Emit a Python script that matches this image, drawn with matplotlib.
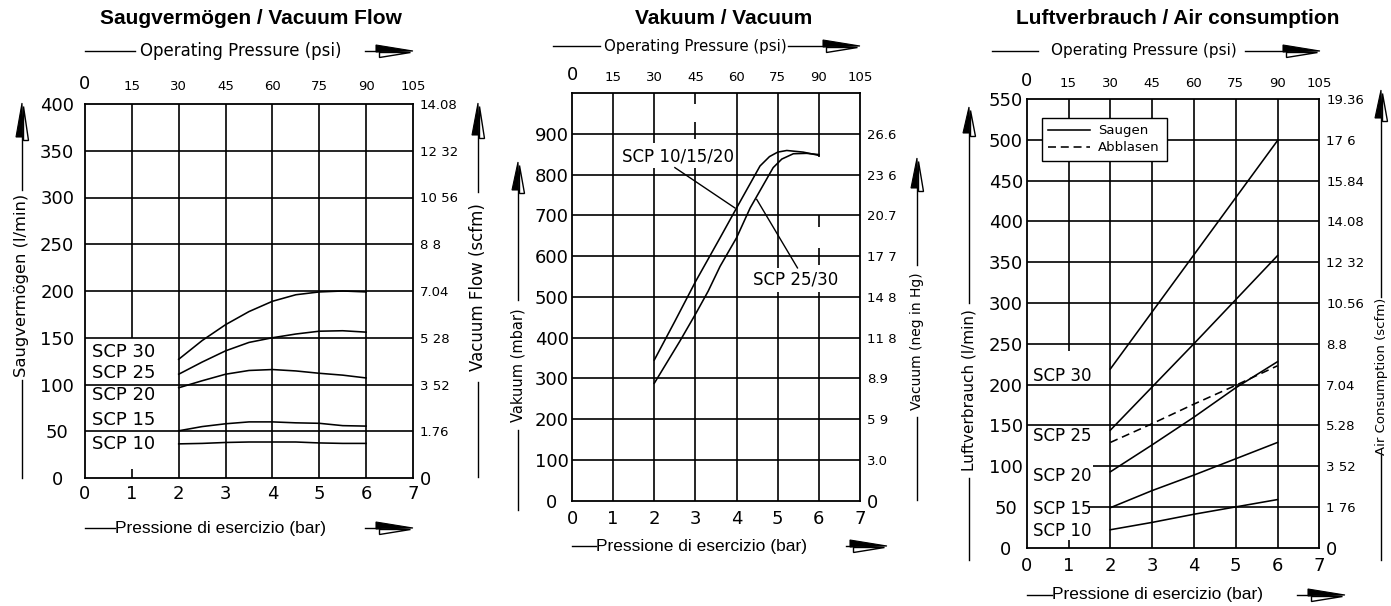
import matplotlib.pyplot as plt
from matplotlib.lines import Line2D
from matplotlib.patches import Polygon

W, H = 1391, 606
CAD = 'DejaVu Sans'
ARIAL = 'Liberation Sans'

# shared pressure axis
bar_ticks = [0, 1, 2, 3, 4, 5, 6, 7]
bar_labels = ['0', '1', '2', '3', '4', '5', '6', '7']
psi_labels = ['0', '15', '30', '45', '60', '75', '90', '105']

# Saugvermögen / Vacuum Flow (l/min over bar)
flow_ticks = [0, 50, 100, 150, 200, 250, 300, 350, 400]
flow_scfm = ['0', '1.76', '3 52', '5 28', '7.04', '8 8', '10 56', '12 32', '14.08']
flow_p = [2, 2.5, 3, 3.5, 4, 4.5, 5, 5.5, 6]
flow_scp30 = [127, 147, 164, 178, 189, 196, 199, 200, 199]
flow_scp25 = [111, 124, 136, 145, 150, 154, 157, 157.5, 156]
flow_scp20 = [96.5, 104, 111, 115, 116, 114.5, 112, 110, 107]
flow_scp15 = [50.5, 55, 58, 60, 60, 59, 58.5, 56, 55.5]
flow_scp10 = [36.5, 37, 38, 38.5, 38.5, 38.5, 37.5, 37, 37]

# Vakuum / Vacuum (mbar over bar)
vac_ticks = [0, 100, 200, 300, 400, 500, 600, 700, 800, 900]
vac_inhg = ['0', '3.0', '5 9', '8.9', '11 8', '14 8', '17 7', '20.7', '23 6', '26.6']
vac_p_small = [2.0, 2.5, 3.0, 3.6, 4.0, 4.57, 4.8, 5.0, 5.22, 5.62, 6.0]
vac_small = [345, 440, 537, 645, 718, 821, 844, 855, 859, 855, 847]
vac_p_big = [2.0, 2.62, 3.02, 3.31, 3.6, 4.0, 4.33, 4.89, 5.1, 5.38, 5.7, 6.0]
vac_big = [288, 391, 461, 514, 575, 645, 718, 817, 838, 851, 852, 849]

# Luftverbrauch / Air consumption (l/min over bar)
air_ticks = [0, 50, 100, 150, 200, 250, 300, 350, 400, 450, 500, 550]
air_scfm = ['0', '1 76', '3 52', '5.28', '7.04', '8.8', '10.56', '12 32',
            '14.08', '15.84', '17 6', '19.36']
air_p = [2, 3, 4, 5, 6]
air_scp30 = [219, 289, 359, 429, 499]
air_scp25 = [144, 197, 250, 304, 358]
air_scp20 = [93, 126, 160, 196, 228]
air_blow = [129, 152, 176, 199, 223]
air_scp15 = [49, 70, 89, 109, 129]
air_scp10 = [22, 31, 41, 50, 59]

plt.rcParams['font.family'] = CAD
fig = plt.figure(figsize=(W / 100, H / 100), dpi=100)


def fx(x):
    return x / W


def fy(y):
    return 1 - y / H


def seg(x0, y0, x1, y1):
    fig.add_artist(Line2D([fx(x0), fx(x1)], [fy(y0), fy(y1)], color='k', lw=1.0))


def head_up(x, tip, base):
    # CAD style arrow: left half filled, right half outlined
    fig.add_artist(Polygon([(fx(x), fy(tip)), (fx(x - 6), fy(base)), (fx(x + 1), fy(base))],
                           closed=True, fc='k', ec='k', lw=0.8))
    fig.add_artist(Polygon([(fx(x + 1), fy(tip + 3)), (fx(x + 1), fy(base + 3)),
                            (fx(x + 6), fy(base + 3))],
                           closed=True, fc='w', ec='k', lw=1.0))


def head_right(x0, tip, y):
    base = tip - 37
    seg(x0, y, base + 4, y)
    fig.add_artist(Polygon([(fx(tip), fy(y)), (fx(base), fy(y - 6)), (fx(base), fy(y + 1))],
                           closed=True, fc='k', ec='k', lw=0.8))
    fig.add_artist(Polygon([(fx(tip - 3), fy(y + 1)), (fx(base + 3), fy(y + 1)),
                            (fx(base + 3), fy(y + 6))],
                           closed=True, fc='w', ec='k', lw=1.0))


def side_label(x, tip, base, t0, t1, end, text, size):
    head_up(x, tip, base)
    seg(x, base, x, t0)
    fig.text(fx(x), fy((t0 + t1) / 2), text, rotation=90, ha='center', va='center',
             fontsize=size, family=CAD)
    seg(x, t1, x, end)


def top_label(x0, x1, tx, arrow0, tip, y, size):
    seg(x0, y, x1, y)
    fig.text(fx(tx), fy(y), 'Operating Pressure (psi)', ha='left', va='center',
             fontsize=size, family=CAD)
    head_right(arrow0, tip, y)


def bottom_label(x0, x1, arrow0, tip, y):
    seg(x0, y, x1, y)
    fig.text(fx(x1), fy(y), 'Pressione di esercizio (bar)', ha='left', va='center',
             fontsize=12.5, family=ARIAL)
    head_right(arrow0, tip, y)


def panel(box, ylim, yticks, right_labels, left_pad, top_pad, bottom_pad):
    x0, y0, x1, y1 = box
    ax = fig.add_axes([fx(x0), fy(y1), (x1 - x0) / W, (y1 - y0) / H])
    ax.set_xlim(0, 7)
    ax.set_ylim(*ylim)
    ax.set_xticks(bar_ticks, bar_labels, fontsize=13)
    ax.set_yticks(yticks, [str(v) for v in yticks], fontsize=13)
    for t in ax.get_yticklabels():
        t.set_horizontalalignment('center')
    ax.tick_params(length=0)
    ax.tick_params(axis='x', pad=bottom_pad)
    ax.tick_params(axis='y', pad=left_pad)
    for s in ax.spines.values():
        s.set_linewidth(1.3)

    axr = ax.twinx()
    axr.set_ylim(*ylim)
    axr.set_yticks(yticks, right_labels, fontsize=9.5)
    axr.get_yticklabels()[0].set_fontsize(13)
    axr.tick_params(length=0, pad=5)

    axt = ax.twiny()
    axt.set_xlim(0, 7)
    axt.set_xticks(bar_ticks, psi_labels, fontsize=9.5)
    axt.get_xticklabels()[0].set_fontsize(13)
    axt.tick_params(length=0, pad=top_pad)
    for a in (axr, axt):
        for s in a.spines.values():
            s.set_visible(False)
    return ax


def grid(ax, vsegs, hsegs):
    for x, a, b in vsegs:
        ax.vlines(x, a, b, color='k', lw=1.2, zorder=1)
    for y, a, b in hsegs:
        ax.hlines(y, a, b, color='k', lw=1.2, zorder=1)


line_kw = dict(color='k', lw=1.15, zorder=3)

# ---------- panel 1: Saugvermögen ----------
ax1 = panel((85, 104, 413, 478), (0, 400), flow_ticks, flow_scfm, 20, 8, 5)
grid(ax1,
     [(1, 150, 400), (1, 0, 10)] + [(x, 0, 400) for x in range(2, 7)],
     [(y, 0, 7) for y in range(50, 400, 50)])
for ys in (flow_scp30, flow_scp25, flow_scp20, flow_scp15, flow_scp10):
    ax1.plot(flow_p, ys, **line_kw)
for name, y in zip(['SCP 30', 'SCP 25', 'SCP 20', 'SCP 15', 'SCP 10'],
                   [135, 112, 89, 62, 36]):
    ax1.text(0.15, y, name, ha='left', va='center', fontsize=13)

fig.text(fx(251), fy(18), 'Saugvermögen / Vacuum Flow', ha='center', va='center',
         fontsize=15, weight='bold', family=ARIAL)
top_label(85, 135, 140, 365, 413, 51, 12)
bottom_label(85, 115, 365, 413, 528)
side_label(22, 103, 137, 190, 380, 478, 'Saugvermögen (l/min)', 11.8)
side_label(478, 103, 135, 192, 382, 477, 'Vacuum Flow (scfm)', 12)

# ---------- panel 2: Vakuum ----------
ax2 = panel((572, 93, 860, 500.7), (0, 1000), vac_ticks, vac_inhg, 14.5, 6.5, 6.5)
grid(ax2,
     [(1, 0, 1000), (2, 878, 1000), (2, 0, 817), (3, 972, 1000), (3, 886, 930),
      (3, 0, 817), (4, 0, 1000), (5, 571, 1000), (5, 0, 513), (6, 844, 1000),
      (6, 672, 701), (6, 577, 621), (6, 0, 513)],
     [(y, 0, 7) for y in range(100, 1000, 100)])
ax2.plot(vac_p_small, vac_small, **line_kw)
ax2.plot(vac_p_big, vac_big, **line_kw)
ax2.text(1.21, 844, 'SCP 10/15/20', ha='left', va='center', fontsize=12)
ax2.plot([2.50, 3.96], [817, 718], color='k', lw=1.0)
ax2.text(4.41, 542, 'SCP 25/30', ha='left', va='center', fontsize=12)
ax2.plot([4.49, 5.48], [739, 571], color='k', lw=1.0)

fig.text(fx(724), fy(18), 'Vakuum / Vacuum', ha='center', va='center',
         fontsize=15, weight='bold', family=ARIAL)
top_label(553, 600, 604, 788, 860, 46, 10.8)
bottom_label(572, 596, 846, 887, 546)
side_label(518, 162, 190, 300, 430, 510, 'Vakuum (mbar)', 10.5)
side_label(917, 158, 188, 265, 417, 500, 'Vacuum (neg in Hg)', 10)

# ---------- panel 3: Luftverbrauch ----------
ax3 = panel((1026.7, 99, 1319.3, 547.7), (0, 550), air_ticks, air_scfm, 15, 6.5, 6.5)
grid(ax3,
     [(1, 241, 550), (1, 0, 9)] + [(x, 0, 550) for x in range(2, 7)],
     [(50, 1.5, 7), (100, 1.59, 7)] + [(y, 0, 7) for y in range(150, 550, 50)])
ax3.plot(air_p, air_scp30, label='Saugen', **line_kw)
for ys in (air_scp25, air_scp20, air_scp15, air_scp10):
    ax3.plot(air_p, ys, **line_kw)
ax3.plot(air_p, air_blow, ls=(0, (5, 3)), label='Abblasen', **line_kw)
for name, y in zip(['SCP 30', 'SCP 25', 'SCP 20', 'SCP 15', 'SCP 10'],
                   [211, 137, 88, 48, 20]):
    ax3.text(0.15, y, name, ha='left', va='center', fontsize=12)
leg = ax3.legend(loc='upper left', bbox_to_anchor=(0.051, 0.958), borderaxespad=0,
                 fancybox=False, framealpha=1, edgecolor='k', fontsize=9.5,
                 handlelength=3.2, handletextpad=0.6, borderpad=0.5, labelspacing=0.3)
leg.get_frame().set_linewidth(1.0)
leg.set_zorder(5)

fig.text(fx(1178), fy(18), 'Luftverbrauch / Air consumption', ha='center', va='center',
         fontsize=15, weight='bold', family=ARIAL)
top_label(992, 1038, 1051, 1245, 1320, 51, 11)
bottom_label(1027, 1052, 1297, 1345, 595)
side_label(969, 107, 133, 303, 478, 560, 'Luftverbrauch (l/min)', 11)
side_label(1381, 90, 118, 297, 455, 560, 'Air Consumption (scfm)', 9.5)

fig.savefig('out.png', dpi=100)
